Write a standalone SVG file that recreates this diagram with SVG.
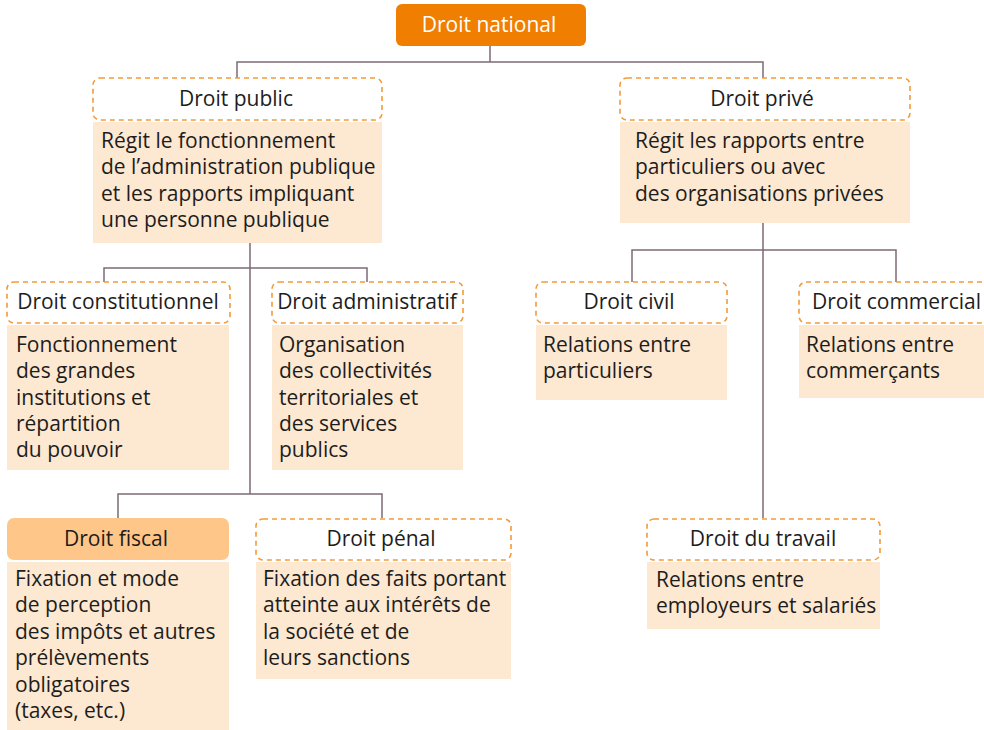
<svg xmlns="http://www.w3.org/2000/svg" width="984" height="730" viewBox="0 0 984 730">
<style>
.hd{fill:#fff;stroke:#F39A3A;stroke-width:1.6;stroke-dasharray:5 4}
.bd{fill:#FDE8D2}
.t{font-family:"Open Sans","Noto Sans","Liberation Sans",sans-serif;font-size:21px;fill:#1d1d1b}
.c{text-anchor:middle}
.ln{fill:none;stroke:#7D6B76;stroke-width:1.5}
</style>
<rect width="984" height="730" fill="#fff"/>
<g id="connectors">
<path class="ln" d="M490 46V62M237 78V62H763V78"/>
<path class="ln" d="M250 243V494M104 282V268H367V282M118 518V494H382V518"/>
<path class="ln" d="M763 223V518M632 282V250H896V282"/>
</g>
<g id="national">
<rect x="396" y="4" width="190" height="42" rx="6" fill="#F07E00"/>
<text class="t c" x="489" y="32" style="fill:#fff">Droit national</text>
</g>
<g id="public">
<rect class="hd" x="93" y="78" width="289" height="42" rx="7"/>
<text class="t c" x="236" y="106">Droit public</text>
<rect class="bd" x="93" y="122" width="289" height="121"/>
<text class="t" x="101" y="148">Régit le fonctionnement</text>
<text class="t" x="101" y="174">de l’administration publique</text>
<text class="t" x="101" y="201">et les rapports impliquant</text>
<text class="t" x="101" y="227">une personne publique</text>
</g>
<g id="prive">
<rect class="hd" x="620" y="78" width="290" height="42" rx="7"/>
<text class="t c" x="762" y="106">Droit privé</text>
<rect class="bd" x="620" y="122" width="290" height="101"/>
<text class="t" x="635" y="148">Régit les rapports entre</text>
<text class="t" x="635" y="174">particuliers ou avec</text>
<text class="t" x="635" y="201">des organisations privées</text>
</g>
<g id="constitutionnel">
<rect class="hd" x="7" y="282" width="223" height="41" rx="7"/>
<text class="t c" x="118" y="309">Droit constitutionnel</text>
<rect class="bd" x="7" y="325" width="222" height="145"/>
<text class="t" x="16" y="352">Fonctionnement</text>
<text class="t" x="16" y="378">des grandes</text>
<text class="t" x="16" y="405">institutions et</text>
<text class="t" x="16" y="431">répartition</text>
<text class="t" x="16" y="457">du pouvoir</text>
</g>
<g id="administratif">
<rect class="hd" x="272" y="282" width="191" height="41" rx="7"/>
<text class="t c" x="367" y="309">Droit administratif</text>
<rect class="bd" x="272" y="325" width="191" height="145"/>
<text class="t" x="279" y="352">Organisation</text>
<text class="t" x="279" y="378">des collectivités</text>
<text class="t" x="279" y="405">territoriales et</text>
<text class="t" x="279" y="431">des services</text>
<text class="t" x="279" y="457">publics</text>
</g>
<g id="civil">
<rect class="hd" x="536" y="282" width="191" height="41" rx="7"/>
<text class="t c" x="629" y="309">Droit civil</text>
<rect class="bd" x="536" y="325" width="191" height="75"/>
<text class="t" x="543" y="352">Relations entre</text>
<text class="t" x="543" y="378">particuliers</text>
</g>
<g id="commercial">
<rect class="hd" x="799" y="282" width="190" height="41" rx="7"/>
<text class="t" x="812" y="309">Droit commercial</text>
<rect class="bd" x="799" y="325" width="190" height="73"/>
<text class="t" x="806" y="352">Relations entre</text>
<text class="t" x="806" y="378">commerçants</text>
</g>
<g id="fiscal">
<rect x="7" y="518" width="222" height="42" rx="7" fill="#FFC68A"/>
<text class="t c" x="116" y="546">Droit fiscal</text>
<rect class="bd" x="7" y="562" width="222" height="170"/>
<text class="t" x="15" y="586">Fixation et mode</text>
<text class="t" x="15" y="612">de perception</text>
<text class="t" x="15" y="639">des impôts et autres</text>
<text class="t" x="15" y="665">prélèvements</text>
<text class="t" x="15" y="692">obligatoires</text>
<text class="t" x="15" y="718">(taxes, etc.)</text>
</g>
<g id="penal">
<rect class="hd" x="256" y="519" width="255" height="41" rx="7"/>
<text class="t c" x="381" y="546">Droit pénal</text>
<rect class="bd" x="256" y="562" width="255" height="117"/>
<text class="t" x="263" y="586">Fixation des faits portant</text>
<text class="t" x="263" y="612">atteinte aux intérêts de</text>
<text class="t" x="263" y="639">la société et de</text>
<text class="t" x="263" y="665">leurs sanctions</text>
</g>
<g id="travail">
<rect class="hd" x="647" y="519" width="233" height="41" rx="7"/>
<text class="t c" x="763" y="546">Droit du travail</text>
<rect class="bd" x="647" y="562" width="233" height="67"/>
<text class="t" x="656" y="587">Relations entre</text>
<text class="t" x="656" y="613">employeurs et salariés</text>
</g>
</svg>
